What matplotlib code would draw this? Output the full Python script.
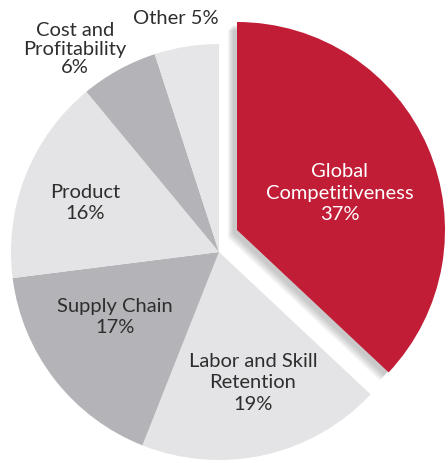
import numpy as np
import matplotlib.pyplot as plt
from matplotlib.patches import Wedge

labels = ["Global\nCompetitiveness", "Labor and Skill\nRetention", "Supply Chain",
          "Product", "Cost and\nProfitability", "Other"]
shares = [37, 19, 17, 16, 6, 5]
colors = ["#c21d36", "#e4e4e6", "#b4b4b8", "#e4e4e6", "#b4b4b8", "#e6e6e8"]

plt.rcParams["font.family"] = ["Lato", "DejaVu Sans"]

W, H = 448, 463
fig = plt.figure(figsize=(W / 100, H / 100), dpi=100)
ax = fig.add_axes([0, 0, 1, 1])

cx, cy, r = 219, H - 252, 208
shift = (18, 22)  # red slice pulled up and right

wedges, _ = ax.pie(shares, colors=colors, startangle=90, counterclock=False,
                   center=(cx, cy), radius=r,
                   wedgeprops=dict(linewidth=0))

# soft shadow behind the pulled-out slice
red = wedges[0]
for k in range(6):
    sh = Wedge((cx + shift[0] - 4 - k, cy + shift[1] - 3 - k), r, red.theta1, red.theta2,
               facecolor="#555555", alpha=0.06, linewidth=0, zorder=1.5)
    ax.add_patch(sh)
red.set_center((cx + shift[0], cy + shift[1]))
red.set_zorder(2)

# label positions in pixel coordinates (y measured from top)
inside = {
    0: (340, 193, "white"),
    1: (253, 383, "#2e2e2e"),
    2: (115, 317, "#2e2e2e"),
    3: (85, 203, "#2e2e2e"),
}
for i, (x, y, c) in inside.items():
    ax.text(x, H - y, f"{labels[i]}\n{shares[i]}%", ha="center", va="center",
            fontsize=14.5, color=c, linespacing=1.3)

ax.text(75, H - 49, f"{labels[4]}\n{shares[4]}%", ha="center", va="center",
        fontsize=14.5, color="#2e2e2e", linespacing=1.08)
ax.text(176, H - 18, f"{labels[5]} {shares[5]}%", ha="center", va="center",
        fontsize=14.5, color="#2e2e2e")

ax.set_xlim(0, W)
ax.set_ylim(0, H)
ax.set_aspect("equal")
ax.axis("off")

fig.savefig("out.png", dpi=100, facecolor="white")
